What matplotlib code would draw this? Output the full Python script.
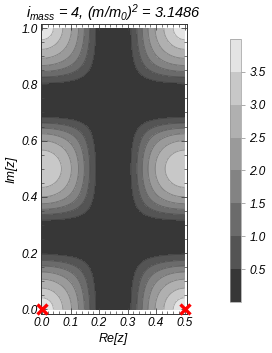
import numpy as np
import matplotlib
matplotlib.use("Agg")
import matplotlib.pyplot as plt
from matplotlib.colors import ListedColormap, BoundaryNorm
from matplotlib.ticker import MultipleLocator, FixedLocator, NullLocator

plt.rcParams['font.family'] = ['Liberation Sans', 'DejaVu Sans']
plt.rcParams['font.style'] = 'italic'
plt.rcParams['mathtext.fontset'] = 'custom'
plt.rcParams['mathtext.rm'] = 'Liberation Sans:italic'
plt.rcParams['mathtext.it'] = 'Liberation Sans:italic'
plt.rcParams['mathtext.bf'] = 'Liberation Sans:italic:bold'

# ---- data ----
peak_x = [0.0, 0.0, 0.0, 0.5, 0.5, 0.5]
peak_y = [0.0, 0.5, 1.0, 0.0, 0.5, 1.0]
peak_h = [3.4, 3.4, 3.4, 3.4, 3.4, 3.4]
spike_h = [0.45, 0.0, 0.45, 0.45, 0.0, 0.45]
peak_sy = [1.04, 0.97, 1.04, 1.04, 0.97, 1.04]
shape_a = 26.6
shape_b = 21840.0
spike_s2 = 0.0025

levels = [0.0, 0.5, 1.0, 1.5, 2.0, 2.5, 3.0, 3.5, 4.0]
band_colors = ['#373737', '#545454', '#6b6b6b', '#838383',
               '#9a9a9a', '#b0b0b0', '#c8c8c8', '#e4e4e4']
cbar_ticks = [0.5, 1.0, 1.5, 2.0, 2.5, 3.0, 3.5]
x_ticks = [0.0, 0.1, 0.2, 0.3, 0.4, 0.5]
y_ticks = [0.0, 0.2, 0.4, 0.6, 0.8, 1.0]
marker_x = [0.0, 0.5]
marker_y = [0.0, 0.0]
title = r"$i_{mass}$ = 4, $(m/m_0)^2$ = 3.1486"

# ---- field ----
xs = np.linspace(0.0, 0.5, 301)
ys = np.linspace(0.0, 1.0, 601)
X, Y = np.meshgrid(xs, ys)
Z = np.zeros_like(X)
for px, py, h, sh, sy in zip(peak_x, peak_y, peak_h, spike_h, peak_sy):
    u = X - px
    v = (Y - py) / sy
    phi = shape_a * (u**2 + v**2) + shape_b * (u**6 + v**6)
    Z += h * np.exp(-phi)
    Z += sh * np.exp(-(u**2 + v**2) / spike_s2)

# ---- figure ----
fig = plt.figure(figsize=(2.72, 3.53), dpi=100)
ax = fig.add_axes([0.149, 0.1105, 0.537, 0.8215])
cmap = ListedColormap(band_colors)
norm = BoundaryNorm(levels, cmap.N)
cs = ax.contourf(X, Y, Z, levels=levels, cmap=cmap, norm=norm)
ax.contour(X, Y, Z, levels=levels[1:-1], colors=[(0.15, 0.15, 0.15, 0.35)],
           linewidths=0.6)

ax.plot(marker_x, marker_y, linestyle='none', marker='x', color='red',
        markersize=7, markeredgewidth=2.4, clip_on=False, zorder=5)

ax.set_xlim(-0.0053, 0.507)
ax.set_ylim(-0.016, 1.0142)
ax.xaxis.set_major_locator(FixedLocator(x_ticks))
ax.yaxis.set_major_locator(FixedLocator(y_ticks))
ax.xaxis.set_minor_locator(MultipleLocator(0.02))
ax.yaxis.set_minor_locator(MultipleLocator(0.05))
ax.set_xticklabels([f"{t:.1f}" for t in x_ticks])
ax.set_yticklabels([f"{t:.1f}" for t in y_ticks])
ax.tick_params(which='both', direction='in', top=True, right=True,
               labelsize=8.5, color='#444444', pad=2)
ax.tick_params(which='major', length=4, width=0.6)
ax.tick_params(which='minor', length=2, width=0.5)
for sp in ax.spines.values():
    sp.set_linewidth(0.7)
    sp.set_color('#333333')

ax.set_xlabel('Re[z]', fontsize=9, labelpad=3)
ax.set_ylabel('Im[z]', fontsize=9, labelpad=3)
ax.set_title(title, fontsize=10.5, pad=3)

cax = fig.add_axes([0.8456, 0.1445, 0.0404, 0.745])
cb = fig.colorbar(cs, cax=cax)
cb.set_ticks(cbar_ticks)
cb.ax.yaxis.set_minor_locator(NullLocator())
cb.ax.set_yticklabels([f"{t:.1f}" for t in cbar_ticks])
cb.ax.tick_params(labelsize=8.5, length=3, width=0.5, color='#888888', pad=3)
cb.outline.set_linewidth(0.5)
cb.outline.set_edgecolor('#999999')

fig.savefig('out.png', dpi=100)
